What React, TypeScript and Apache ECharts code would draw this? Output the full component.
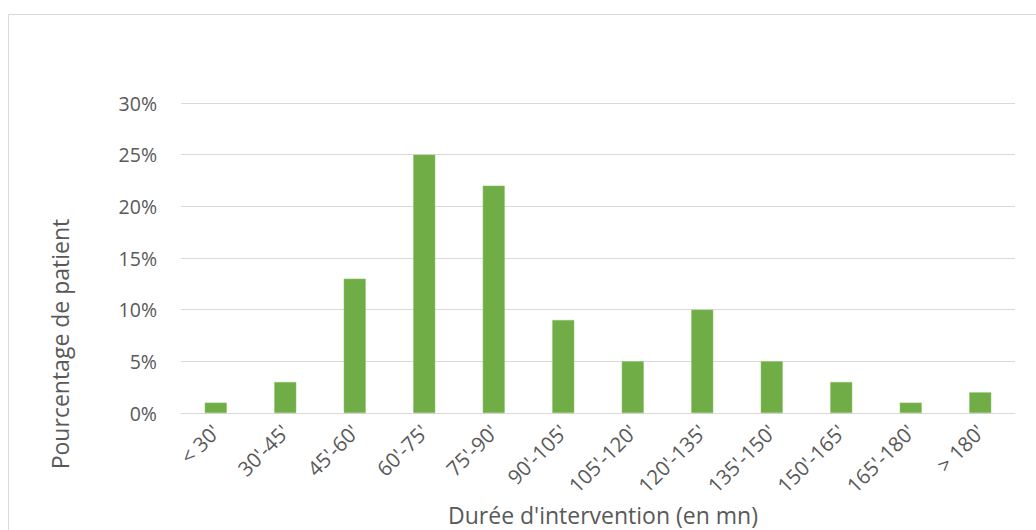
import React, { useEffect, useRef } from "react";
import * as echarts from "echarts";

const categories = ["< 30'", "30'-45'", "45'-60'", "60'-75'", "75'-90'", "90'-105'", "105'-120'", "120'-135'", "135'-150'", "150'-165'", "165'-180'", "> 180'"];
const values = [1, 3, 13, 25, 22, 9, 5, 10, 5, 3, 1, 2];
const yTitle = "Pourcentage de patient";
const xTitle = "Durée d'intervention (en mn)";

const FONT = "'Open Sans', 'Noto Sans', sans-serif";
const TXT = "#595959";

export default function App() {
  const ref = useRef<HTMLDivElement>(null);
  useEffect(() => {
    if (!ref.current) return;
    const chart = echarts.init(ref.current, null, { renderer: "svg" });
    chart.setOption({
      animation: false,
      backgroundColor: "#ffffff",
      textStyle: { fontFamily: FONT },
      grid: { left: 181, right: 21, top: 103, bottom: 117, containLabel: false },
      xAxis: {
        type: "category",
        data: categories,
        axisLine: { lineStyle: { color: "#d9d9d9", width: 1 } },
        axisTick: { show: false },
        axisLabel: { rotate: 45, color: TXT, fontSize: 20.5, fontFamily: FONT, margin: 15, interval: 0 },
      },
      yAxis: {
        type: "value",
        min: 0,
        max: 30,
        interval: 5,
        axisLine: { show: false },
        axisTick: { show: false },
        splitLine: { lineStyle: { color: "#d9d9d9", width: 1 } },
        axisLabel: { formatter: "{value}%", color: TXT, fontSize: 19.5, fontFamily: FONT, margin: 24 },
      },
      series: [
        {
          type: "bar",
          data: values,
          barWidth: 22,
          itemStyle: { color: "#70AD47", borderColor: "#8cc46a", borderWidth: 0.5 },
        },
      ],
      graphic: [
        {
          type: "rect",
          silent: true,
          shape: { x: 8.5, y: 14.5, width: 1100, height: 600 },
          style: { fill: "none", stroke: "#d9d9d9", lineWidth: 1 },
        },
        {
          type: "text",
          x: 60,
          y: 344,
          rotation: Math.PI / 2,
          style: { text: yTitle, fill: TXT, font: `23px ${FONT}`, textAlign: "center", textVerticalAlign: "middle" },
        },
        {
          type: "text",
          x: 603,
          y: 515,
          style: { text: xTitle, fill: TXT, font: `23px ${FONT}`, textAlign: "center", textVerticalAlign: "middle" },
        },
      ],
    });
    return () => chart.dispose();
  }, []);
  return <div ref={ref} style={{ position: "fixed", left: 0, top: 0, width: 1036, height: 530 }} />;
}
